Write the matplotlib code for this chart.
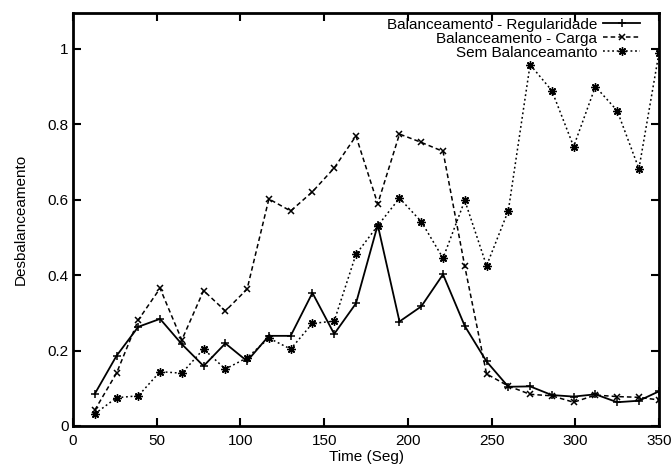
import matplotlib
matplotlib.use("Agg")
import matplotlib.pyplot as plt

plt.rcParams['font.family'] = ['Liberation Sans', 'DejaVu Sans']

time = [13, 26, 39, 52, 65, 78, 91, 104, 117, 130, 143, 156, 169, 182,
        195, 208, 221, 234, 247, 260, 273, 286, 299, 312, 325, 338, 350]

regularidade = [0.085, 0.186, 0.263, 0.284, 0.217, 0.159, 0.219, 0.172, 0.239,
                0.239, 0.353, 0.244, 0.325, 0.533, 0.277, 0.317, 0.402, 0.265,
                0.171, 0.104, 0.105, 0.082, 0.078, 0.084, 0.063, 0.067, 0.092]

carga = [0.042, 0.140, 0.281, 0.365, 0.228, 0.359, 0.305, 0.363, 0.602, 0.570,
         0.621, 0.684, 0.769, 0.589, 0.774, 0.752, 0.728, 0.423, 0.138, 0.106,
         0.084, 0.080, 0.063, 0.082, 0.078, 0.076, 0.069]

sem = [0.032, 0.075, 0.080, 0.144, 0.140, 0.204, 0.151, 0.181, 0.233, 0.204,
       0.272, 0.278, 0.455, 0.531, 0.604, 0.542, 0.445, 0.598, 0.425, 0.571,
       0.958, 0.889, 0.741, 0.900, 0.836, 0.682, 0.990]

labels = ["Balanceamento - Regularidade", "Balanceamento - Carga", "Sem Balanceamanto"]
xticks = [0, 50, 100, 150, 200, 250, 300, 350]
yticks = [0, 0.2, 0.4, 0.6, 0.8, 1.0]
yticklabels = ["0", "0.2", "0.4", "0.6", "0.8", "1"]

fig = plt.figure(figsize=(6.72, 4.69), dpi=100)
ax = fig.add_axes([0.1086, 0.0917, 0.8721, 0.8806])

ax.plot(time, regularidade, color='black', lw=1.3, linestyle='-',
        marker='+', markersize=6, markeredgewidth=1.1, label=labels[0])
ax.plot(time, carga, color='black', lw=1.1, linestyle=(0, (3, 2)),
        marker='x', markersize=5, markeredgewidth=1.1, label=labels[1])
ax.plot(time, sem, color='black', lw=1.1, linestyle=(0, (1.2, 1.8)),
        marker=(8, 2, 0), markersize=6, markeredgewidth=1.0, label=labels[2])

ax.set_xlim(0, 350)
ax.set_ylim(0, 1.095)
ax.set_xticks(xticks)
ax.set_yticks(yticks)
ax.set_yticklabels(yticklabels)
ax.tick_params(direction='in', length=6, width=1.5, top=True, right=True,
               labelsize=11, colors='black')
ax.tick_params(axis='y', pad=3)
ax.tick_params(axis='x', pad=6)
for s in ax.spines.values():
    s.set_linewidth(2)

ax.set_xlabel("Time (Seg)", fontsize=11, labelpad=1)
ax.set_ylabel("Desbalanceamento", fontsize=11, labelpad=14)

leg = ax.legend(loc='upper right', bbox_to_anchor=(0.970, 0.992), frameon=False,
                markerfirst=False, fontsize=11, handlelength=2.4,
                handletextpad=0.4, labelspacing=0.0, borderaxespad=0.0,
                borderpad=0.1)
for col in leg._legend_handle_box.get_children():
    col.align = 'right'

fig.savefig("out.png", dpi=100)
